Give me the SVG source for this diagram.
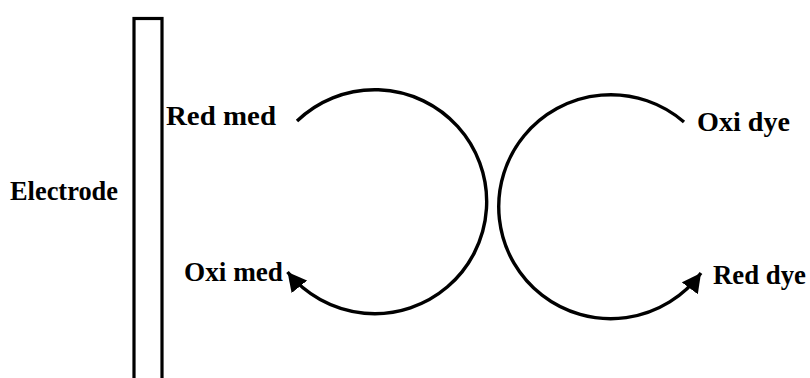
<svg xmlns="http://www.w3.org/2000/svg" width="810" height="378" viewBox="0 0 810 378">
<style>
.t{font-family:"Liberation Serif","Times New Roman",serif;font-size:27px;font-weight:bold;fill:#000;}
.c{fill:none;stroke:#000;stroke-width:3.4;}
</style>
<defs>
<marker id="ah" markerUnits="userSpaceOnUse" markerWidth="22" markerHeight="20" viewBox="0 0 22 20" refX="19" refY="10" orient="auto">
<path d="M0,0 L19,10 L0,20 Z" fill="#000"/>
</marker>
</defs>
<rect width="810" height="378" fill="#fff"/>
<g id="electrode">
<rect x="134" y="18.5" width="28" height="380" fill="none" stroke="#000" stroke-width="3.2"/>
<text class="t" x="10" y="200" textLength="108" lengthAdjust="spacingAndGlyphs">Electrode</text>
</g>
<g id="red-med"><text class="t" x="166" y="125" textLength="110" lengthAdjust="spacingAndGlyphs">Red med</text></g>
<g id="oxi-med"><text class="t" x="184" y="281" textLength="99" lengthAdjust="spacingAndGlyphs">Oxi med</text></g>
<g id="oxi-dye"><text class="t" x="697" y="131" textLength="93" lengthAdjust="spacingAndGlyphs">Oxi dye</text></g>
<g id="red-dye"><text class="t" x="713" y="284" textLength="93" lengthAdjust="spacingAndGlyphs">Red dye</text></g>
<g id="connectors">
<path class="c" d="M297,121 A112,112 0 1 1 287.5,272" marker-end="url(#ah)"/>
<path class="c" d="M684,122 A112,112 0 1 0 701,273" marker-end="url(#ah)"/>
</g>
</svg>
